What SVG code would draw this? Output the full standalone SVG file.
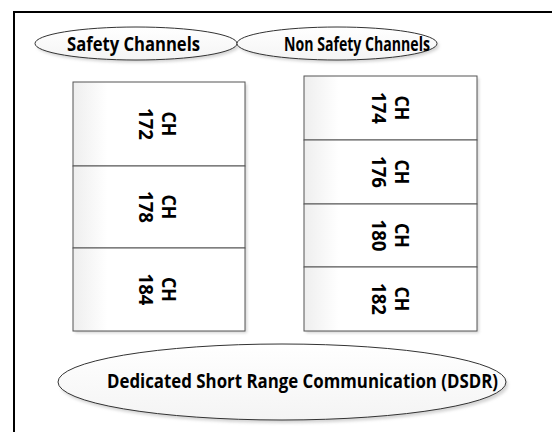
<svg xmlns="http://www.w3.org/2000/svg" width="552" height="432" viewBox="0 0 552 432">
  <style>
    .lbl { font-family: "Open Sans", "Noto Sans", "Liberation Sans", sans-serif; font-weight: bold; font-size: 20px; fill: #000; }
    .ch { font-family: "Open Sans", "Noto Sans", "Liberation Sans", sans-serif; font-weight: bold; font-size: 20px; fill: #000; text-anchor: middle; }
    .oval { fill: url(#ovalFill); stroke: #333; stroke-width: 1; }
    .cell { fill: url(#cellFill); stroke: #555; stroke-width: 1; }
  </style>
  <defs>
    <linearGradient id="ovalFill" x1="0" y1="0" x2="0" y2="1">
      <stop offset="0" stop-color="#ffffff"/>
      <stop offset="1" stop-color="#f4f4f4"/>
    </linearGradient>
    <linearGradient id="cellFill" x1="0" y1="0" x2="1" y2="0">
      <stop offset="0" stop-color="#eeeeee"/>
      <stop offset="0.2" stop-color="#ffffff"/>
      <stop offset="1" stop-color="#ffffff"/>
    </linearGradient>
    <filter id="shadow" x="-10%" y="-20%" width="130%" height="160%">
      <feGaussianBlur stdDeviation="1.5"/>
    </filter>
  </defs>

  <rect width="552" height="432" fill="#fff"/>
  <!-- outer frame -->
  <rect x="14" y="12" width="560" height="440" fill="none" stroke="#000" stroke-width="2"/>

  <!-- soft shadows -->
  <g fill="#aaa" opacity="0.5" filter="url(#shadow)">
    <ellipse cx="138" cy="46" rx="101" ry="16.5"/>
    <ellipse cx="339" cy="46" rx="100" ry="16.5"/>
    <ellipse cx="284" cy="385" rx="224" ry="38"/>
    <rect x="75" y="84" width="172" height="249"/>
    <rect x="306" y="78" width="173" height="255"/>
  </g>

  <g id="safety-header">
    <ellipse class="oval" cx="136" cy="43.5" rx="101" ry="16.5"/>
    <text class="lbl" x="67" y="51" textLength="133" lengthAdjust="spacingAndGlyphs">Safety Channels</text>
  </g>

  <g id="nonsafety-header">
    <ellipse class="oval" cx="337" cy="43.5" rx="100" ry="16.5"/>
    <text class="lbl" x="284" y="51" textLength="146" lengthAdjust="spacingAndGlyphs">Non Safety Channels</text>
  </g>

  <g id="ch172">
    <rect class="cell" x="73" y="82" width="172" height="84"/>
    <text class="ch" transform="translate(162 124) rotate(90)"><tspan x="0" y="0" textLength="25" lengthAdjust="spacingAndGlyphs">CH</tspan><tspan x="0" y="23" textLength="32" lengthAdjust="spacingAndGlyphs">172</tspan></text>
  </g>
  <g id="ch178">
    <rect class="cell" x="73" y="166" width="172" height="82"/>
    <text class="ch" transform="translate(162 207) rotate(90)"><tspan x="0" y="0" textLength="25" lengthAdjust="spacingAndGlyphs">CH</tspan><tspan x="0" y="23" textLength="32" lengthAdjust="spacingAndGlyphs">178</tspan></text>
  </g>
  <g id="ch184">
    <rect class="cell" x="73" y="248" width="172" height="83"/>
    <text class="ch" transform="translate(162 289.5) rotate(90)"><tspan x="0" y="0" textLength="25" lengthAdjust="spacingAndGlyphs">CH</tspan><tspan x="0" y="23" textLength="32" lengthAdjust="spacingAndGlyphs">184</tspan></text>
  </g>

  <g id="ch174">
    <rect class="cell" x="304" y="76" width="173" height="64"/>
    <text class="ch" transform="translate(395 108) rotate(90)"><tspan x="0" y="0" textLength="25" lengthAdjust="spacingAndGlyphs">CH</tspan><tspan x="0" y="23" textLength="32" lengthAdjust="spacingAndGlyphs">174</tspan></text>
  </g>
  <g id="ch176">
    <rect class="cell" x="304" y="140" width="173" height="64"/>
    <text class="ch" transform="translate(395 172) rotate(90)"><tspan x="0" y="0" textLength="25" lengthAdjust="spacingAndGlyphs">CH</tspan><tspan x="0" y="23" textLength="32" lengthAdjust="spacingAndGlyphs">176</tspan></text>
  </g>
  <g id="ch180">
    <rect class="cell" x="304" y="204" width="173" height="63"/>
    <text class="ch" transform="translate(395 235.5) rotate(90)"><tspan x="0" y="0" textLength="25" lengthAdjust="spacingAndGlyphs">CH</tspan><tspan x="0" y="23" textLength="32" lengthAdjust="spacingAndGlyphs">180</tspan></text>
  </g>
  <g id="ch182">
    <rect class="cell" x="304" y="267" width="173" height="64"/>
    <text class="ch" transform="translate(395 299) rotate(90)"><tspan x="0" y="0" textLength="25" lengthAdjust="spacingAndGlyphs">CH</tspan><tspan x="0" y="23" textLength="32" lengthAdjust="spacingAndGlyphs">182</tspan></text>
  </g>

  <g id="dsrc">
    <ellipse class="oval" cx="282" cy="382" rx="224" ry="38"/>
    <text class="lbl" x="107" y="388" textLength="391" lengthAdjust="spacingAndGlyphs">Dedicated Short Range Communication (DSDR)</text>
  </g>

  <g id="connectors"></g>
</svg>
